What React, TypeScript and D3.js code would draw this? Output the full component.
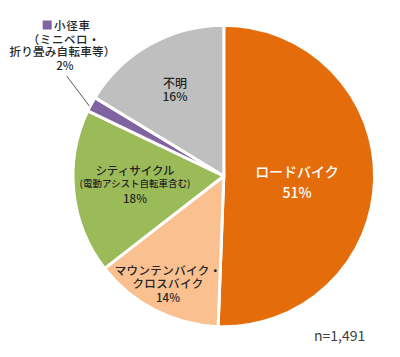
import React from "react";
import * as d3 from "d3";

const categories = ["ロードバイク", "マウンテンバイク・クロスバイク", "シティサイクル", "小径車", "不明"];
const values = [50.6, 13.9, 17.6, 1.6, 16.3];
const percentLabels = ["51%", "14%", "18%", "2%", "16%"];
const colors = ["#E46C0A", "#FAC090", "#9BBB59", "#8064A2", "#BFBFBF"];
const sampleNote = "n=1,491";

const W = 400;
const H = 357;
const CX = 223.8;
const CY = 176;
const R = 150.8;
const FONT = "'Noto Sans CJK JP', 'Noto Sans', sans-serif";

export default function App() {
  const pie = d3
    .pie<number>()
    .sort(null)
    .value((d) => d)
    .startAngle(0)
    .endAngle(2 * Math.PI);
  const arcs = pie(values);
  const arc = d3.arc<d3.PieArcDatum<number>>().innerRadius(0).outerRadius(R);

  const txt = "#262626";
  return (
    <svg
      width={W}
      height={H}
      style={{ position: "absolute", left: 0, top: 0, background: "#fff" }}
      fontFamily={FONT}
    >
      <g transform={`translate(${CX},${CY})`}>
        {arcs.map((a, i) => (
          <path
            key={categories[i]}
            d={arc(a) || ""}
            fill={colors[i]}
            stroke="#fff"
            strokeWidth={3}
            strokeLinejoin="round"
          />
        ))}
      </g>

      {/* ロードバイク */}
      <text fill="#fff" fontSize={14} fontWeight={500} textAnchor="middle" x={297} y={176.5}>
        <tspan x={297} dy={0}>{categories[0]}</tspan>
        <tspan x={297} dy={21.5}>{percentLabels[0]}</tspan>
      </text>

      {/* MTB */}
      <text fill={txt} fontSize={11.5} fontWeight={500} textAnchor="middle" x={168} y={275}>
        <tspan x={168} dy={0} letterSpacing={0.4}>マウンテンバイク・</tspan>
        <tspan x={168} dy={12.5} letterSpacing={0.4}>クロスバイク</tspan>
        <tspan x={168} dy={14}>{percentLabels[1]}</tspan>
      </text>

      {/* City */}
      <text fill={txt} fontWeight={500} textAnchor="middle" x={135} y={175}>
        <tspan x={135} dy={0} fontSize={11.5}>シティサイクル</tspan>
        <tspan x={135} dy={12} fontSize={9.5}>(電動アシスト自転車含む)</tspan>
        <tspan x={135} dy={15.5} fontSize={11.5}>{percentLabels[2]}</tspan>
      </text>

      {/* 不明 */}
      <text fill={txt} fontSize={12} fontWeight={500} textAnchor="middle" x={175} y={87.5}>
        <tspan x={175} dy={0}>{categories[4]}</tspan>
        <tspan x={175} dy={13}>{percentLabels[4]}</tspan>
      </text>

      {/* 小径車 */}
      <line x1={66.7} y1={76} x2={89.3} y2={106} stroke="#595959" strokeWidth={1} />
      <rect x={42.7} y={20.5} width={9} height={9} fill={colors[3]} />
      <text fill={txt} fontSize={11.5} fontWeight={500} x={54} y={29.5}>
        <tspan x={54} dy={0} letterSpacing={0.8}>{categories[3]}</tspan>
        <tspan x={64} dy={14} textAnchor="middle" letterSpacing={0.6}>（ミニベロ・</tspan>
        <tspan x={62.5} dy={12.5} textAnchor="middle" letterSpacing={0.3}>折り畳み自転車等）</tspan>
        <tspan x={65} dy={13.5} textAnchor="middle">{percentLabels[3]}</tspan>
      </text>

      <text x={314} y={341} fontSize={14} fill="#404040">{sampleNote}</text>
    </svg>
  );
}
